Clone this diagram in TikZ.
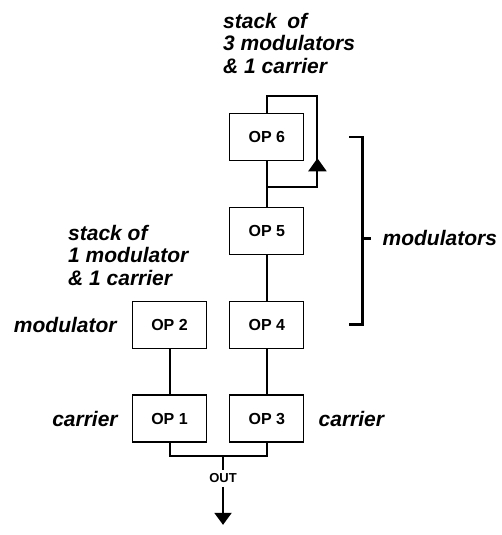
\documentclass[tikz,border=0pt]{standalone}
\usepackage{fontspec}
\setmainfont{Liberation Sans}
\usetikzlibrary{positioning, arrows.meta, calc}

\begin{document}
\begin{tikzpicture}[
    x=1pt, y=1pt, node distance=45.5pt and 22pt, every node/.style={inner sep=0pt},
    opbox/.style={draw, line width=1.3pt, minimum width=74pt, minimum height=47pt, font=\fontsize{16}{16}\selectfont\bfseries},
    role/.style={font=\fontsize{21}{22.5}\selectfont\bfseries\itshape, align=left},
    wire/.style={line width=2pt},
    tip/.style={-{Triangle[width=18pt, length=13pt]}}
  ]
\useasboundingbox (0,0) rectangle (501,-535);

\node[opbox] (op1) at (169.5,-418.5) {OP 1};

\node[opbox, right=of op1]                  (op3) {OP 3};

\node[opbox, above=of op1]                  (op2) {OP 2};

\node[opbox, above=of op3]                  (op4) {OP 4};

\node[opbox, above=of op4]                  (op5) {OP 5};

\node[opbox, above=of op5]                  (op6) {OP 6};

\node[role, left=15pt of op2]               (modl) {modulator};
\node[role, left=14pt of op1]               (carl) {carrier};
\node[role, right=14pt of op3]              (carr) {carrier};
\node[role, anchor=north west] (stk1) at (68,-225) {stack of\\1 modulator\\\& 1 carrier};
\node[role, anchor=north west] (stk3) at (223,-13) {stack\hspace{0.5em}of\\3 modulators\\\& 1 carrier};

  \draw[wire] (op2) -- (op1);
  \draw[wire] (op4) -- (op3);
  \draw[wire] (op5) -- (op4);
  \draw[wire] (op6) -- (op5);

  % feedback round OP 6
  \coordinate (fbl) at ($(op6.south)+(0,-26)$);
  \coordinate (fbt) at ($(op6.north east)+(13,17)$);
  \coordinate (fbh) at ($(fbl -| fbt)+(0,29)$);
  \draw[wire] (fbl) -| (fbt) -| (op6.north);
  \draw[wire, tip] (fbl -| fbt) -- (fbh);

  % carriers to output
  \coordinate (mix) at ($(op1.south)!0.55!(op3.south)+(0,-13)$);
  \draw[wire] (op1.south) |- (mix) -| (op3.south);
\node[font=\fontsize{13}{13}\selectfont\bfseries, outer sep=4pt, below=14pt of mix] (out) {OUT};
  \coordinate (sink) at ($(out.south)+(0,-38)$);
  \draw[wire] (mix) -- (out);
  \draw[wire, -{Triangle[width=17pt, length=12pt]}] (out) -- (sink);

  % bracket
  \coordinate (brt) at ($(op6.east)+(58,0)$);
  \coordinate (brb) at (brt |- op4.east);
  \coordinate (brm) at ($(brt)!0.54!(brb)$);
  \draw[line width=2.5pt] ($(brt)+(-13,0)$) -- (brt) -- (brb) -- ($(brb)+(-13,0)$);
  \draw[line width=2.5pt] (brm) -- ($(brm)+(9,0)$);
\node[role, right=20pt of brm] (mods) {modulators};
\end{tikzpicture}
\end{document}
